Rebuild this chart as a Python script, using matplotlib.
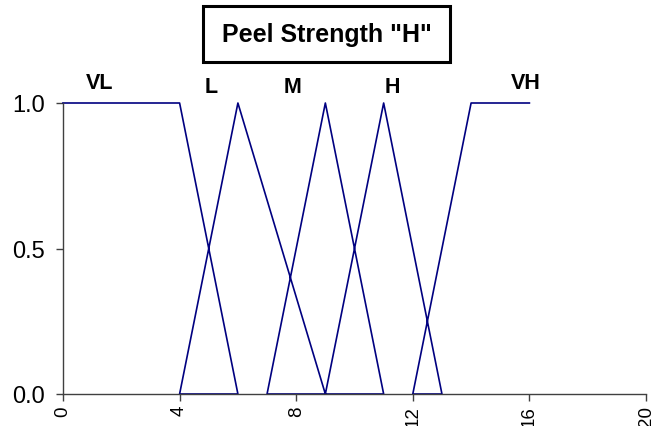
import matplotlib
matplotlib.use("Agg")
import matplotlib.pyplot as plt
from matplotlib.patches import Rectangle

plt.rcParams['font.family'] = ['Liberation Sans', 'DejaVu Sans']

# single polyline of membership functions
x_vals = [0, 4, 6, 4, 6, 9, 7, 9, 11, 9, 11, 13, 12, 14, 16]
y_vals = [1, 1, 0, 0, 1, 0, 0, 1, 0, 0, 1, 0, 0, 1, 1]

labels = ["VL", "L", "M", "H", "VH"]
label_x = [1.27, 5.08, 7.89, 11.29, 15.88]
label_y = [1.069, 1.055, 1.055, 1.055, 1.072]

x_ticks = [0, 4, 8, 12, 16, 20]
y_ticks = [0.0, 0.5, 1.0]
title = 'Peel Strength "H"'

fig = plt.figure(figsize=(6.53, 4.27), dpi=100)
ax = fig.add_axes([63/653, 32/427, 583/653, 291/427])
ax.plot(x_vals, y_vals, color="#000080", lw=1.2, clip_on=False)
ax.set_xlim(0, 20)
ax.set_ylim(0, 1)
ax.set_xticks(x_ticks)
ax.set_xticklabels([str(t) for t in x_ticks], rotation=90, fontsize=13.5)
ax.set_yticks(y_ticks)
ax.set_yticklabels([f"{t:.1f}" for t in y_ticks], fontsize=17)
for s in ["top", "right"]:
    ax.spines[s].set_visible(False)
for s in ["left", "bottom"]:
    ax.spines[s].set_color("#404040")
    ax.spines[s].set_linewidth(1.0)
ax.tick_params(axis="both", direction="out", length=5, width=1.0, color="#404040")
ax.tick_params(axis="y", pad=8)
ax.tick_params(axis="x", pad=3)

for lab, lx, ly in zip(labels, label_x, label_y):
    ax.text(lx, ly, lab, ha="center", va="center", fontsize=15.5, fontweight="bold", clip_on=False)

# title box
fig.patches.append(Rectangle((203/653, 1 - 63/427), 247/653, 56/427, transform=fig.transFigure,
                             fill=False, edgecolor="black", lw=2.2))
fig.text(327/653, 1 - 35/427, title, ha="center", va="center", fontsize=18, fontweight="bold")

fig.savefig("out.png", dpi=100)
